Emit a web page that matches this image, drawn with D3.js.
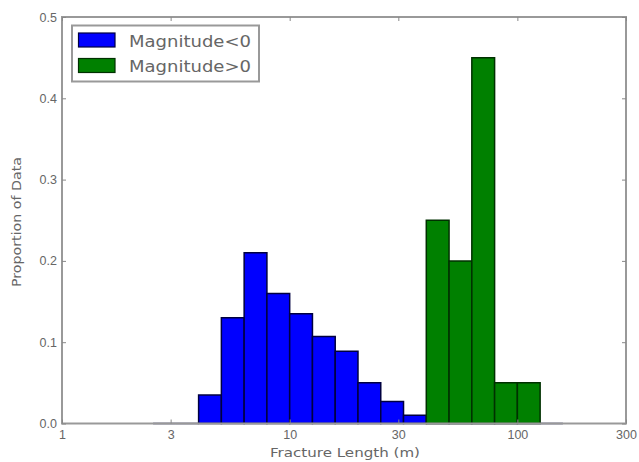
<!DOCTYPE html>
<html><head><meta charset="utf-8">
<script src="https://cdn.jsdelivr.net/npm/d3@7"></script>
<style>body{margin:0;background:#fff;} svg{display:block;font-family:"DejaVu Sans",sans-serif;}</style>
</head><body>
<svg id="c" width="639" height="462"></svg>
<script>
// log10 bin edges (width 0.1 decade)
const blueBinStarts = [0.4,0.5,0.6,0.7,0.8,0.9,1.0,1.1,1.2,1.3,1.4,1.5,1.6,1.7,1.8,1.9,2.0,2.1];
const blueValues    = [0,0,0.035,0.13,0.21,0.16,0.135,0.107,0.089,0.05,0.027,0.01,0,0,0,0,0,0];
const greenBinStarts = [1.6,1.7,1.8,1.9,2.0];
const greenValues    = [0.25,0.2,0.45,0.05,0.05];
const binWidth = 0.1;
const xTicks = [1,3,10,30,100,300];
const yTicks = [0,0.1,0.2,0.3,0.4,0.5];
const seriesNames = ["Magnitude<0","Magnitude>0"];

const svg = d3.select("#c");
const L=62,R=626,T=17,B=423.5;
const x = d3.scaleLog().domain([1,300]).range([L,R]);
const y = d3.scaleLinear().domain([0,0.5]).range([B,T]);

function barPath(s,v){
  const x0=x(Math.pow(10,s)), x1=x(Math.pow(10,s+binWidth)), y0=y(0), y1=y(v);
  return `M${x0},${y0}L${x0},${y1}L${x1},${y1}L${x1},${y0}Z`;
}
svg.append("g").selectAll("path").data(blueBinStarts).join("path")
  .attr("d",(d,i)=>barPath(d,blueValues[i]))
  .attr("fill","#0000ff").attr("stroke","#000040").attr("stroke-width",1.5);
svg.append("g").selectAll("path").data(greenBinStarts).join("path")
  .attr("d",(d,i)=>barPath(d,greenValues[i]))
  .attr("fill","#008000").attr("stroke","#003000").attr("stroke-width",1.5);

const axisCol="#999";
svg.append("rect").attr("x",L).attr("y",T).attr("width",R-L).attr("height",B-T)
  .attr("fill","none").attr("stroke",axisCol).attr("stroke-width",2);

const xb = svg.append("g").attr("transform",`translate(0,${B})`)
  .call(d3.axisBottom(x).tickValues(xTicks).tickFormat(d3.format("d")).tickSizeInner(-4).tickSizeOuter(0).tickPadding(7));
const xt = svg.append("g").attr("transform",`translate(0,${T})`)
  .call(d3.axisTop(x).tickValues(xTicks).tickFormat("").tickSizeInner(-4).tickSizeOuter(0));
const yl = svg.append("g").attr("transform",`translate(${L},0)`)
  .call(d3.axisLeft(y).tickValues(yTicks).tickFormat(d3.format(".1f")).tickSizeInner(-4).tickSizeOuter(0).tickPadding(5));
const yr = svg.append("g").attr("transform",`translate(${R},0)`)
  .call(d3.axisRight(y).tickValues(yTicks).tickFormat("").tickSizeInner(-4).tickSizeOuter(0));
[xb,xt,yl,yr].forEach(g=>{
  g.select(".domain").remove();
  g.selectAll(".tick line").attr("stroke","#888");
  g.selectAll("text").attr("fill","#666").attr("font-size",12.5);
});

svg.append("text").attr("x",345).attr("y",457).attr("text-anchor","middle")
  .attr("font-size",12.5).attr("fill","#666").attr("textLength",150).attr("lengthAdjust","spacingAndGlyphs")
  .text("Fracture Length (m)");
svg.append("text").attr("transform","translate(21,222) rotate(-90)").attr("text-anchor","middle")
  .attr("font-size",12.5).attr("fill","#666").attr("textLength",130).attr("lengthAdjust","spacingAndGlyphs")
  .text("Proportion of Data");

const lg = svg.append("g");
lg.append("rect").attr("x",72).attr("y",25.5).attr("width",187).attr("height",56)
  .attr("fill","#fff").attr("stroke","#999").attr("stroke-width",2);
const cols=["#0000ff","#008000"], edges=["#000040","#003000"];
seriesNames.forEach((n,i)=>{
  lg.append("rect").attr("x",78.5).attr("y",33+i*25.5).attr("width",36.5).attr("height",14)
    .attr("fill",cols[i]).attr("stroke",edges[i]).attr("stroke-width",1.2);
  lg.append("text").attr("x",129).attr("y",46.5+i*25.5).attr("font-size",15).attr("fill","#666")
    .attr("textLength",122).attr("lengthAdjust","spacingAndGlyphs").text(n);
});
</script>
</body></html>
